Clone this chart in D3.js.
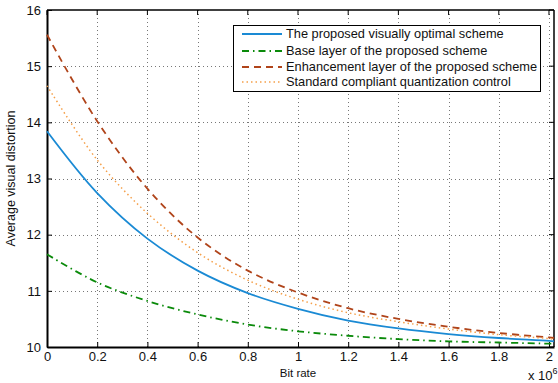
<!DOCTYPE html>
<html>
<head>
<meta charset="utf-8">
<script src="https://cdn.jsdelivr.net/npm/d3@7"></script>
<style>
  body { margin: 0; background: #fff; }
  text { font-family: "Liberation Sans", Arial, sans-serif; }
</style>
</head>
<body>
<div id="chart"></div>
<script>
// bit rate in units of 1e6
const bitRate = [0, 0.2, 0.4, 0.6, 0.8, 1.0, 1.2, 1.4, 1.6, 1.8, 2.0, 2.02];
const optimal = [13.84, 12.74, 11.93, 11.36, 10.96, 10.68, 10.47, 10.33, 10.23, 10.16, 10.11, 10.10];
const baseLayer = [11.65, 11.15, 10.82, 10.58, 10.40, 10.28, 10.20, 10.14, 10.10, 10.08, 10.06, 10.06];
const enhLayer = [15.56, 14.02, 12.82, 11.95, 11.36, 10.97, 10.69, 10.50, 10.36, 10.25, 10.17, 10.16];
const standard = [14.65, 13.33, 12.38, 11.68, 11.19, 10.85, 10.61, 10.45, 10.32, 10.22, 10.15, 10.14];
const xTicks = [0, 0.2, 0.4, 0.6, 0.8, 1, 1.2, 1.4, 1.6, 1.8, 2];
const yTicks = [10, 11, 12, 13, 14, 15, 16];
const seriesNames = [
  "The proposed visually optimal scheme",
  "Base layer of the proposed scheme",
  "Enhancement layer of the proposed scheme",
  "Standard compliant quantization control"
];

const width = 558, height = 383;
const marginLeft = 47, marginRight = 4, marginTop = 10, marginBottom = 36;

const x = d3.scaleLinear().domain([0, 2.02]).range([marginLeft, width - marginRight]);
const y = d3.scaleLinear().domain([10, 16]).range([height - marginBottom, marginTop]);

const svg = d3.select("#chart").append("svg")
    .attr("width", width)
    .attr("height", height);

// grid
const grid = svg.append("g").attr("stroke", "#777").attr("stroke-width", 1).attr("stroke-dasharray", "1,3");
xTicks.slice(1).forEach(t => {
  grid.append("line").attr("x1", Math.round(x(t)) + 0.5).attr("x2", Math.round(x(t)) + 0.5)
    .attr("y1", y(16)).attr("y2", y(10));
});
yTicks.slice(1, -1).forEach(t => {
  grid.append("line").attr("y1", Math.round(y(t)) + 0.5).attr("y2", Math.round(y(t)) + 0.5)
    .attr("x1", x(0)).attr("x2", x(2.02));
});

// axes
const xAxis = svg.append("g")
    .attr("transform", `translate(0,${y(10)})`)
    .call(d3.axisBottom(x).tickValues(xTicks).tickSizeInner(-5).tickSizeOuter(0).tickPadding(5).tickFormat(d3.format("~g")));
const yAxis = svg.append("g")
    .attr("transform", `translate(${x(0)},0)`)
    .call(d3.axisLeft(y).tickValues(yTicks).tickSizeInner(-5).tickSizeOuter(0).tickPadding(6).tickFormat(d3.format("d")));
[xAxis, yAxis].forEach(a => {
  a.select(".domain").attr("stroke", "#000").attr("stroke-width", 2);
  a.selectAll(".tick text").attr("font-size", 13).attr("fill", "#111")
   .attr("font-family", "Liberation Sans, Arial, sans-serif");
  a.selectAll(".tick line").attr("stroke", "#000");
});
// top/right box with ticks
const box = svg.append("g").attr("stroke", "#000");
box.append("line").attr("x1", x(0)).attr("x2", x(2.02)).attr("y1", y(16)).attr("y2", y(16)).attr("stroke-width", 1.5);
box.append("line").attr("x1", x(2.02)).attr("x2", x(2.02)).attr("y1", y(16)).attr("y2", y(10)).attr("stroke-width", 1.5);
xTicks.forEach(t => box.append("line").attr("x1", x(t)).attr("x2", x(t)).attr("y1", y(16)).attr("y2", y(16) + 5));
yTicks.forEach(t => box.append("line").attr("x1", x(2.02)).attr("x2", x(2.02) - 5).attr("y1", y(t)).attr("y2", y(t)));

// lines
const series = [
  {vals: optimal, color: "#1a8ad4", dash: null, w: 1.8},
  {vals: baseLayer, color: "#0a8a0a", dash: "7,4,1.5,4", w: 1.8},
  {vals: enhLayer, color: "#b0441a", dash: "7,5", w: 1.8},
  {vals: standard, color: "#f5a04a", dash: "1.5,3", w: 1.5}
];
const line = d3.line().x((d, i) => x(bitRate[i])).y(d => y(d)).curve(d3.curveCatmullRom);
series.forEach(s => {
  svg.append("path")
    .attr("fill", "none")
    .attr("stroke", s.color)
    .attr("stroke-width", s.w)
    .attr("stroke-dasharray", s.dash)
    .attr("d", line(s.vals));
});

// legend
const lg = svg.append("g");
lg.append("rect").attr("x", 233.5).attr("y", 25.5).attr("width", 307).attr("height", 66)
  .attr("fill", "#fff").attr("stroke", "#000").attr("stroke-width", 1);
const rowY = [34, 51, 67, 82];
series.forEach((s, i) => {
  lg.append("line").attr("x1", 242).attr("x2", 282).attr("y1", rowY[i]).attr("y2", rowY[i])
    .attr("stroke", s.color).attr("stroke-width", s.w).attr("stroke-dasharray", s.dash);
  lg.append("text").attr("x", 286).attr("y", rowY[i]).attr("dy", "0.35em")
    .attr("font-size", 12.8).attr("fill", "#111").text(seriesNames[i]);
});

// axis labels
svg.append("text").attr("x", x(1)).attr("y", 377).attr("text-anchor", "middle")
  .attr("font-size", 11.5).attr("fill", "#111").text("Bit rate");
svg.append("text").attr("transform", `translate(15,${(y(10) + y(16)) / 2}) rotate(-90)`)
  .attr("text-anchor", "middle").attr("font-size", 12.5).attr("fill", "#111").text("Average visual distortion");
const ex = svg.append("text").attr("x", 528).attr("y", 380).attr("font-size", 13).attr("fill", "#111");
ex.append("tspan").text("x 10");
ex.append("tspan").attr("dy", -6).attr("font-size", 9).text("6");
</script>
</body>
</html>
